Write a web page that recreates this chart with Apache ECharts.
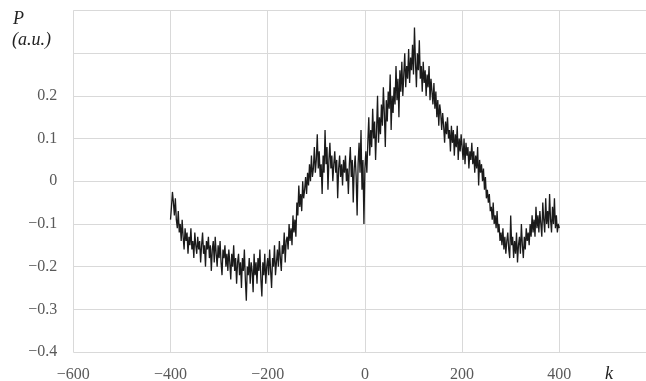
<!DOCTYPE html>
<html>
<head>
<meta charset="utf-8">
<script src="https://cdn.jsdelivr.net/npm/echarts@6/dist/echarts.min.js"></script>
<style>
  html, body { margin: 0; padding: 0; background: #fff; }
  #chart { width: 646px; height: 381px; }
</style>
</head>
<body>
<div id="chart"></div>
<script>
// Sampling grid of the wave number k
const K_START = -400;
const K_STEP = 2;

// Measured P (a.u.) for k = -400, -398, ..., 400
const P_VALUES = [
  -0.09, -0.06, -0.025, -0.05, -0.08, -0.04, -0.09, -0.11, -0.07, -0.12,
  -0.10, -0.14, -0.09, -0.13, -0.16, -0.11, -0.14, -0.12, -0.17, -0.13,
  -0.15, -0.11, -0.16, -0.14, -0.18, -0.12, -0.15, -0.17, -0.13, -0.16,
  -0.14, -0.19, -0.15, -0.12, -0.17, -0.15, -0.20, -0.14, -0.16, -0.13,
  -0.18, -0.15, -0.21, -0.16, -0.14, -0.19, -0.13, -0.17, -0.20, -0.15,
  -0.18, -0.14, -0.19, -0.22, -0.16, -0.18, -0.15, -0.20, -0.17, -0.21,
  -0.16, -0.19, -0.23, -0.17, -0.20, -0.15, -0.21, -0.18, -0.24, -0.19,
  -0.17, -0.22, -0.19, -0.25, -0.18, -0.21, -0.16, -0.23, -0.28, -0.20,
  -0.22, -0.18, -0.24, -0.19, -0.21, -0.26, -0.17, -0.22, -0.19, -0.24,
  -0.18, -0.21, -0.16, -0.23, -0.27, -0.19, -0.22, -0.17, -0.24, -0.20,
  -0.18, -0.22, -0.16, -0.21, -0.25, -0.18, -0.20, -0.15, -0.22, -0.19,
  -0.16, -0.20, -0.14, -0.18, -0.21, -0.15, -0.17, -0.12, -0.19, -0.14,
  -0.13, -0.16, -0.10, -0.14, -0.11, -0.15, -0.08, -0.12, -0.09, -0.13,
  -0.05, -0.08, -0.01, -0.06, -0.03, -0.07, 0.00, -0.04, -0.02, 0.01,
  -0.03, 0.02, -0.01, 0.04, 0.00, 0.06, 0.01, 0.03, 0.08, 0.02,
  0.05, 0.11, 0.03, 0.07, 0.01, 0.04, -0.03, 0.06, 0.02, 0.12,
  0.04, 0.08, -0.02, 0.05, 0.09, 0.03, 0.06, 0.00, 0.04, 0.07,
  0.02, 0.05, -0.04, 0.03, 0.06, 0.01, 0.04, -0.01, 0.05, 0.02,
  0.06, 0.00, 0.03, -0.03, 0.04, 0.08, 0.01, 0.05, -0.05, 0.03,
  0.06, 0.01, -0.08, 0.04, 0.09, 0.02, 0.12, -0.02, 0.05, -0.10,
  0.03, 0.07, 0.02, 0.09, 0.15, 0.06, 0.12, 0.08, 0.17, 0.10,
  0.14, 0.05, 0.12, 0.20, 0.09, 0.15, 0.11, 0.18, 0.13, 0.22,
  0.16, 0.08, 0.19, 0.14, 0.21, 0.17, 0.25, 0.12, 0.20, 0.16,
  0.22, 0.18, 0.27, 0.19, 0.24, 0.15, 0.26, 0.21, 0.28, 0.20,
  0.25, 0.30, 0.22, 0.27, 0.24, 0.31, 0.23, 0.29, 0.26, 0.32,
  0.25, 0.36, 0.28, 0.22, 0.30, 0.26, 0.33, 0.24, 0.27, 0.21,
  0.28, 0.23, 0.26, 0.20, 0.25, 0.22, 0.27, 0.19, 0.24, 0.21,
  0.18, 0.23, 0.17, 0.21, 0.15, 0.19, 0.13, 0.18, 0.16, 0.12,
  0.16, 0.13, 0.09, 0.14, 0.11, 0.15, 0.10, 0.12, 0.07, 0.13,
  0.09, 0.12, 0.06, 0.11, 0.08, 0.13, 0.05, 0.10, 0.07, 0.11,
  0.08, 0.05, 0.10, 0.04, 0.09, 0.06, 0.08, 0.03, 0.07, 0.05,
  0.09, 0.04, 0.07, 0.02, 0.06, 0.03, 0.08, -0.01, 0.05, 0.02,
  0.04, 0.00, 0.03, -0.02, 0.01, -0.04, -0.02, -0.05, -0.03, -0.07,
  -0.06, -0.09, -0.05, -0.10, -0.08, -0.11, -0.07, -0.12, -0.10, -0.14,
  -0.12, -0.15, -0.11, -0.16, -0.13, -0.17, -0.14, -0.12, -0.16, -0.18,
  -0.08, -0.15, -0.13, -0.18, -0.14, -0.17, -0.12, -0.19, -0.15, -0.13,
  -0.17, -0.10, -0.15, -0.18, -0.13, -0.16, -0.11, -0.14, -0.12, -0.15,
  -0.10, -0.13, -0.08, -0.12, -0.09, -0.13, -0.06, -0.11, -0.08, -0.12,
  -0.07, -0.10, -0.13, -0.05, -0.09, -0.12, -0.04, -0.10, -0.07, -0.11,
  -0.03, -0.09, -0.12, -0.06, -0.10, -0.04, -0.11, -0.08, -0.12, -0.10,
  -0.11
];

// Axis ranges and tick spacing
const X_MIN = -600, X_MAX = 600, X_STEP = 200, X_LAST_LABEL = 400;
const Y_MIN = -0.4, Y_MAX = 0.4, Y_STEP = 0.1, Y_LAST_LABEL = 0.2;

const points = P_VALUES.map((p, i) => [K_START + i * K_STEP, p]);

const SERIF = '"Liberation Serif", "DejaVu Serif", serif';
const TICK_COLOR = '#595959';
const GRID_COLOR = '#d9d9d9';

function fmt(v, digits) {
  if (Math.abs(v) < 1e-9) return '0';
  const s = Math.abs(v).toFixed(digits);
  return (v < 0 ? '\u2212' : '') + s;
}

const chart = echarts.init(document.getElementById('chart'), null, { renderer: 'canvas' });

chart.setOption({
  animation: false,
  backgroundColor: '#fff',
  // the plot runs past the right edge of the canvas, so it is not clamped to it
  grid: {
    left: 73.3, top: 10.5, width: 583.2, height: 341.5,
    containLabel: false, outerBoundsMode: 'none'
  },
  xAxis: {
    type: 'value',
    min: X_MIN, max: X_MAX, interval: X_STEP,
    axisLine: { show: false },
    axisTick: { show: false },
    splitLine: { show: true, lineStyle: { color: GRID_COLOR, width: 1 } },
    axisLabel: {
      margin: 15,
      color: TICK_COLOR,
      fontFamily: SERIF,
      fontSize: 16,
      showMaxLabel: false,
      formatter: v => (v > X_LAST_LABEL ? '' : fmt(v, 0))
    }
  },
  yAxis: {
    type: 'value',
    min: Y_MIN, max: Y_MAX, interval: Y_STEP,
    axisLine: { show: false },
    axisTick: { show: false },
    splitLine: { show: true, lineStyle: { color: GRID_COLOR, width: 1 } },
    axisLabel: {
      margin: 16,
      color: TICK_COLOR,
      fontFamily: SERIF,
      fontSize: 16,
      formatter: v => {
        const r = Math.round(v * 10) / 10;
        return r > Y_LAST_LABEL + 1e-6 ? '' : fmt(r, 1);
      }
    }
  },
  graphic: [
    { type: 'text', left: 13, top: 10,
      style: { text: 'P', fontFamily: SERIF, fontStyle: 'italic', fontSize: 18, fill: '#222' } },
    { type: 'text', left: 12, top: 31,
      style: { text: '(a.u.)', fontFamily: SERIF, fontStyle: 'italic', fontSize: 18, fill: '#222' } },
    { type: 'text', left: 605, top: 365,
      style: { text: 'k', fontFamily: SERIF, fontStyle: 'italic', fontSize: 18, fill: '#222' } }
  ],
  series: [{
    type: 'line',
    data: points,
    showSymbol: false,
    symbol: 'none',
    lineStyle: { color: '#1a1a1a', width: 1.3 },
    clip: false,
    silent: true
  }]
});
</script>
</body>
</html>
